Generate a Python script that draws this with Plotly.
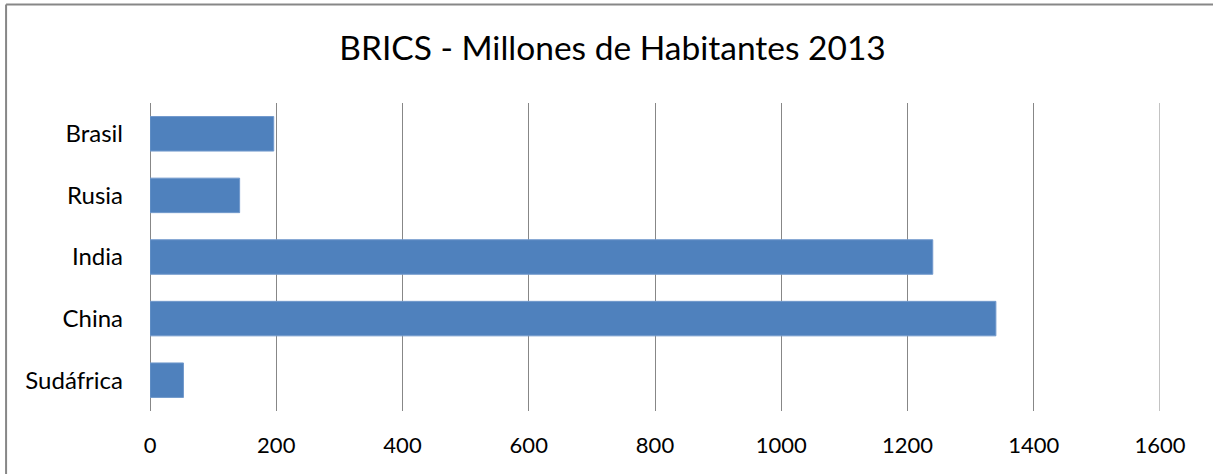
import plotly.graph_objects as go

# population in millions, 2013
countries = ["Brasil", "Rusia", "India", "China", "Sudáfrica"]
population = [196, 142, 1240, 1340, 53]
x_ticks = [0, 200, 400, 600, 800, 1000, 1200, 1400, 1600]
x_max = 1600

grid = "#878787"

fig = go.Figure(
    go.Bar(
        x=population,
        y=countries,
        orientation="h",
        marker=dict(color="#4F81BD", line=dict(color="#7199cc", width=1)),
    )
)

fig.update_layout(
    width=1213,
    height=474,
    margin=dict(l=150, r=53, t=103, b=63),
    paper_bgcolor="white",
    plot_bgcolor="white",
    font=dict(family="Lato", size=22, color="#000000"),
    title=dict(
        text="BRICS - Millones de Habitantes 2013",
        x=0.505,
        xanchor="center",
        y=1 - 48 / 474,
        yanchor="middle",
        font=dict(family="Lato", size=33.5, color="#000000"),
    ),
    bargap=0.44,
    showlegend=False,
    shapes=[
        # chart frame (cropped on right and bottom)
        dict(type="line", xref="paper", yref="paper",
             x0=-0.1425, x1=1.2, y0=1.32, y1=1.32,
             line=dict(color=grid, width=2)),
        dict(type="line", xref="paper", yref="paper",
             x0=-0.1425, x1=-0.1425, y0=-0.3, y1=1.32,
             line=dict(color=grid, width=2)),
        # last gridline sits on the plot edge, plotly skips it
        dict(type="line", xref="x", yref="paper",
             x0=x_max, x1=x_max, y0=0, y1=1,
             line=dict(color=grid, width=1), layer="below"),
    ],
)

fig.update_xaxes(
    range=[0, x_max],
    tickvals=x_ticks,
    showgrid=True,
    gridcolor=grid,
    gridwidth=1,
    zeroline=True,
    zerolinecolor=grid,
    zerolinewidth=1,
    showline=False,
    ticks="",
    ticklabelstandoff=19,
)

fig.update_yaxes(
    categoryorder="array",
    categoryarray=countries,
    autorange="reversed",
    showgrid=False,
    zeroline=False,
    showline=False,
    ticks="",
    tickfont=dict(size=24),
    ticklabelstandoff=26,
)

fig.write_html(
    "out.html",
    config={"displayModeBar": False},
    post_script="document.body.style.margin='0';",
)
